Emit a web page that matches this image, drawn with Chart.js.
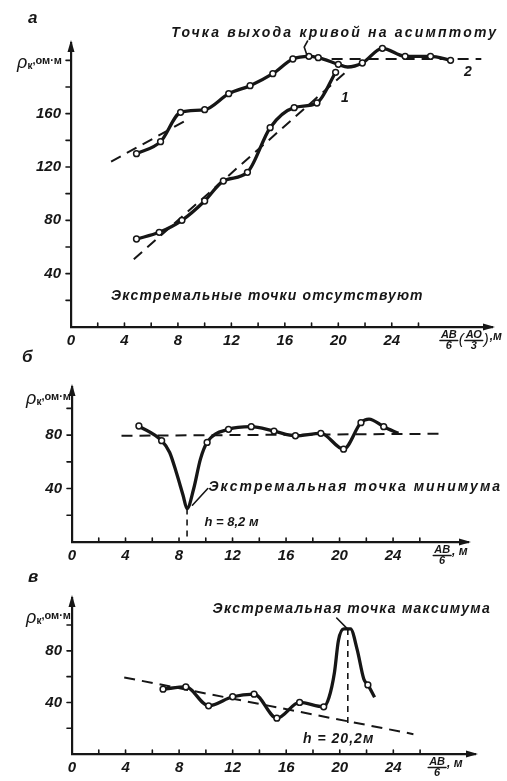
<!DOCTYPE html>
<html>
<head>
<meta charset="utf-8">
<script src="https://cdn.jsdelivr.net/npm/chart.js@4.4.1/dist/chart.umd.min.js"></script>
<style>
    html, body { margin: 0; padding: 0; background: #fff; }
    body { width: 507px; height: 781px; position: relative; overflow: hidden; }
    .panel { position: absolute; left: 0; width: 507px; }
</style>
</head>
<body>
<div class="panel" style="top:0;height:360px"><canvas id="chart-a"></canvas></div>
<div class="panel" style="top:340px;height:225px"><canvas id="chart-b"></canvas></div>
<div class="panel" style="top:560px;height:221px"><canvas id="chart-v"></canvas></div>
<script>
"use strict";

// shared axis ticks
const xTicks = [0, 2, 4, 6, 8, 10, 12, 14, 16, 18, 20, 22, 24, 26];
const xLabels = [0, 4, 8, 12, 16, 20, 24];

// panel а
const aYTicks = [20, 40, 60, 80, 100, 120, 140, 160, 180, 200];
const aYLabels = [40, 80, 120, 160];
const a1PointsX = [4.9, 6.6, 8.3, 10.0, 11.4, 13.2, 14.9, 16.7, 18.4, 19.8];
const a1PointsY = [66, 71, 80, 94.5, 109.5, 116, 149.5, 164.5, 168, 191];
const a2PointsX = [4.9, 6.7, 8.2, 10.0, 11.8, 13.4, 15.1, 16.6, 17.8, 18.5, 20.0, 21.8, 23.3, 25.0, 26.9, 28.4];
const a2PointsY = [130, 139, 161, 163, 175, 181, 190, 201, 203, 202, 197, 198, 209, 203, 203, 200];
const a2ShapeX = [20.7];
const a2ShapeY = [195];
const a1TrendX = [4.7, 20.6];
const a1TrendY = [50.8, 191.5];
const a2TrendX = [3.0, 8.8];
const a2TrendY = [124, 156];
const aAsymptoteX = [19.5, 30.7];
const aAsymptoteY = [201, 201];

// panel б
const bYTicks = [20, 40, 60, 80, 100];
const bYLabels = [40, 80];
const bPointsX = [5.0, 6.7, 10.1, 11.7, 13.4, 15.1, 16.7, 18.6, 20.3, 21.6, 23.3];
const bPointsY = [86.8, 75.8, 74.5, 84.3, 86.3, 83, 79.5, 81.3, 69.5, 89.3, 86.3];
const bShapeX = [7.3, 7.8, 8.3, 8.6, 9.1, 9.6, 22.2, 24.4];
const bShapeY = [67, 52, 35, 25, 40, 62, 92, 81.3];
const bMeanX = [3.7, 27.4];
const bMeanY = [79.5, 81];
const bMinX = [8.6, 8.6];
const bMinY = [25, 0];

// panel в
const vYTicks = [20, 40, 60, 80, 100];
const vYLabels = [40, 80];
const vPointsX = [6.8, 8.5, 10.2, 12.0, 13.6, 15.3, 17.0, 18.8, 22.1];
const vPointsY = [50.3, 52, 37.4, 44.4, 46.4, 27.8, 40, 36.6, 53.6];
const vShapeX = [19.2, 19.6, 19.9, 20.3, 20.8, 21.3, 21.8, 22.6];
const vShapeY = [44, 63, 88, 97, 97, 81, 58, 44];
const vTrendX = [3.9, 25.5];
const vTrendY = [59.4, 15.4];
const vMaxX = [20.6, 20.6];
const vMaxY = [97, 22];

const INK = '#161616';
const FONT = '"Liberation Sans", "DejaVu Sans", Arial, sans-serif';
const NOTE_FONT = 'italic bold 14px ' + FONT;

function pts(xs, ys) {
    return xs.map((x, i) => ({x: x, y: ys[i]}));
}

function merged(ax, ay, bx, by) {
    return pts(ax.concat(bx), ay.concat(by)).sort((p, q) => p.x - q.x);
}

function markers(data) {
    return {data: data, showLine: false, pointRadius: 2.9, pointBorderWidth: 1.5,
        pointBackgroundColor: '#fff', pointBorderColor: INK, order: 0};
}

function curve(data) {
    return {data: data, borderColor: INK, borderWidth: 3.3, pointRadius: 0,
        cubicInterpolationMode: 'monotone', fill: false, order: 1};
}

function dashed(data, dash, width) {
    return {data: data, borderColor: INK, borderWidth: width || 2, borderDash: dash || [11, 7],
        pointRadius: 0, fill: false, order: 2};
}

// stretch a line of text between two x pixels
function fitText(ctx, text, x0, x1, cy, font) {
    ctx.font = font;
    ctx.textAlign = 'left';
    ctx.textBaseline = 'middle';
    if (x1 == null) {
        ctx.fillText(text, x0, cy);
        return;
    }
    const w = ctx.measureText(text).width;
    const extra = (x1 - x0 - w) / Math.max(1, text.length - 1);
    if ('letterSpacing' in ctx) {
        ctx.letterSpacing = extra + 'px';
        ctx.fillText(text, x0, cy);
        ctx.letterSpacing = '0px';
    } else {
        ctx.save();
        ctx.translate(x0, cy);
        ctx.scale((x1 - x0) / w, 1);
        ctx.fillText(text, 0, 0);
        ctx.restore();
    }
}

function drawYTitle(ctx, right, cy) {
    const parts = [['ρ', 'italic 18px ' + FONT, 1], ['к', 'bold 10px ' + FONT, 4], [',ом·м', 'bold 11px ' + FONT, -1]];
    let w = 0;
    parts.forEach(p => { ctx.font = p[1]; w += ctx.measureText(p[0]).width; });
    let x = right - w;
    ctx.textAlign = 'left';
    ctx.textBaseline = 'middle';
    parts.forEach(p => {
        ctx.font = p[1];
        ctx.fillText(p[0], x, cy + p[2]);
        x += ctx.measureText(p[0]).width;
    });
}

function drawXTitle(ctx, x, yb, pieces) {
    ctx.textBaseline = 'middle';
    ctx.textAlign = 'center';
    pieces.forEach(p => {
        if (Array.isArray(p)) {
            ctx.font = 'italic bold 11px ' + FONT;
            const w = Math.max(ctx.measureText(p[0]).width, ctx.measureText(p[1]).width) + 2;
            ctx.fillText(p[0], x + w / 2, yb + 8);
            ctx.fillText(p[1], x + w / 2, yb + 19);
            ctx.lineWidth = 1.4;
            ctx.beginPath();
            ctx.moveTo(x, yb + 13.5);
            ctx.lineTo(x + w, yb + 13.5);
            ctx.stroke();
            x += w + 1;
        } else {
            const paren = p === '(' || p === ')';
            ctx.font = paren ? 'italic 15px ' + FONT : 'italic bold 12px ' + FONT;
            const w = ctx.measureText(p).width;
            ctx.fillText(p, x + w / 2, yb + (paren ? 13 : 10));
            x += w + 1;
        }
    });
}

const sketch = {
    id: 'sketch',
    afterDraw(chart, args, o) {
        const ctx = chart.ctx, ca = chart.chartArea;
        const sx = chart.scales.x, sy = chart.scales.y;
        const px = v => sx.getPixelForValue(v), py = v => sy.getPixelForValue(v);
        ctx.save();
        ctx.fillStyle = INK;
        ctx.strokeStyle = INK;
        ctx.lineCap = 'round';

        // tick marks: x inward, y outward
        ctx.lineWidth = 1.6;
        ctx.beginPath();
        sx.ticks.forEach(t => {
            if (t.value > 0) {
                ctx.moveTo(px(t.value), ca.bottom);
                ctx.lineTo(px(t.value), ca.bottom - 4);
            }
        });
        sy.ticks.forEach(t => {
            ctx.moveTo(ca.left, py(t.value));
            ctx.lineTo(ca.left - 5, py(t.value));
        });
        ctx.stroke();

        // arrow heads
        ctx.beginPath();
        ctx.moveTo(ca.left, ca.top - 3);
        ctx.lineTo(ca.left - 3.5, ca.top + 9);
        ctx.lineTo(ca.left + 3.5, ca.top + 9);
        ctx.closePath();
        ctx.moveTo(ca.right + 3, ca.bottom);
        ctx.lineTo(ca.right - 9, ca.bottom - 3.5);
        ctx.lineTo(ca.right - 9, ca.bottom + 3.5);
        ctx.closePath();
        ctx.fill();

        // panel letter
        ctx.font = 'italic bold 17px ' + FONT;
        ctx.textAlign = 'left';
        ctx.textBaseline = 'middle';
        ctx.fillText(o.letter, o.letterAt[0], o.letterAt[1]);

        drawYTitle(ctx, o.yTitle.right, ca.top + o.yTitle.dy);
        drawXTitle(ctx, px(o.xTitle.x), ca.bottom, o.xTitle.pieces);

        o.notes.forEach(n => fitText(ctx, n.text, px(n.x0), n.x1 == null ? null : px(n.x1), py(n.y), n.font || NOTE_FONT));

        ctx.lineWidth = 1.6;
        o.leaders.forEach(l => {
            ctx.beginPath();
            l.forEach((p, i) => i ? ctx.lineTo(px(p[0]), py(p[1])) : ctx.moveTo(px(p[0]), py(p[1])));
            ctx.stroke();
        });
        ctx.restore();
    }
};

function makeChart(id, cfg) {
    const tickFont = {family: FONT, size: 15, style: 'italic', weight: 'bold'};
    return new Chart(document.getElementById(id), {
        type: 'line',
        data: {datasets: cfg.datasets},
        options: {
            responsive: true,
            maintainAspectRatio: false,
            animation: false,
            layout: {padding: {top: cfg.top, right: cfg.right, left: 0, bottom: 0}},
            plugins: {
                legend: {display: false},
                tooltip: {enabled: false},
                sketch: cfg.sketch
            },
            scales: {
                x: {
                    type: 'linear',
                    min: 0,
                    max: cfg.xMax,
                    afterBuildTicks: s => { s.ticks = xTicks.map(v => ({value: v})); },
                    afterFit: s => { s.height = cfg.xHeight; },
                    grid: {display: true, drawOnChartArea: false, drawTicks: false},
                    border: {display: true, color: INK, width: 2.2},
                    ticks: {
                        autoSkip: false,
                        maxRotation: 0,
                        padding: 5,
                        color: INK,
                        font: tickFont,
                        callback: v => xLabels.includes(v) ? String(v) : ''
                    }
                },
                y: {
                    type: 'linear',
                    min: 0,
                    max: cfg.yMax,
                    afterBuildTicks: s => { s.ticks = cfg.yTicks.map(v => ({value: v})); },
                    afterFit: s => { s.width = cfg.left; },
                    grid: {display: true, drawOnChartArea: false, drawTicks: false},
                    border: {display: true, color: INK, width: 2.2},
                    ticks: {
                        padding: 10,
                        color: INK,
                        font: tickFont,
                        callback: v => cfg.yLabels.includes(v) ? String(v) : ''
                    }
                }
            }
        },
        plugins: [sketch]
    });
}

makeChart('chart-a', {
    top: 43, right: 15, left: 71, xHeight: 33, xMax: 31.5, yMax: 213,
    yTicks: aYTicks, yLabels: aYLabels,
    datasets: [
        markers(pts(a1PointsX, a1PointsY)),
        markers(pts(a2PointsX, a2PointsY)),
        curve(pts(a1PointsX, a1PointsY)),
        curve(merged(a2PointsX, a2PointsY, a2ShapeX, a2ShapeY)),
        dashed(pts(a1TrendX, a1TrendY)),
        dashed(pts(a2TrendX, a2TrendY)),
        dashed(pts(aAsymptoteX, aAsymptoteY))
    ],
    sketch: {
        letter: 'а', letterAt: [28, 18],
        yTitle: {right: 62, dy: 19},
        xTitle: {x: 27.6, pieces: [['АВ', '6'], '(', ['АО', '3'], ')', ',м']},
        notes: [
            {text: 'Точка выхода кривой на асимптоту', x0: 7.5, x1: 31.8, y: 220.5},
            {text: 'Экстремальные точки отсутствуют', x0: 3.0, x1: 26.3, y: 23},
            {text: '1', x0: 20.2, y: 172},
            {text: '2', x0: 29.4, y: 191}
        ],
        leaders: [[[17.65, 204], [17.45, 210], [17.7, 214.5]]]
    }
});

makeChart('chart-b', {
    top: 47, right: 39, left: 72, xHeight: 23, xMax: 29.6, yMax: 116,
    yTicks: bYTicks, yLabels: bYLabels,
    datasets: [
        markers(pts(bPointsX, bPointsY)),
        curve(merged(bPointsX, bPointsY, bShapeX, bShapeY)),
        dashed(pts(bMeanX, bMeanY)),
        dashed(pts(bMinX, bMinY), [6, 5], 1.6)
    ],
    sketch: {
        letter: 'б', letterAt: [22, 17],
        yTitle: {right: 71, dy: 11},
        xTitle: {x: 27.0, pieces: [['АВ', '6'], ', м']},
        notes: [
            {text: 'Экстремальная точка минимума', x0: 10.2, x1: 32.0, y: 41.3},
            {text: 'h = 8,2 м', x0: 9.9, y: 14.3, font: 'italic bold 13px ' + FONT}
        ],
        leaders: [[[9.0, 27.5], [10.15, 40]]]
    }
});

makeChart('chart-v', {
    top: 38, right: 32, left: 72, xHeight: 27, xMax: 30.1, yMax: 121,
    yTicks: vYTicks, yLabels: vYLabels,
    datasets: [
        markers(pts(vPointsX, vPointsY)),
        curve(merged(vPointsX, vPointsY, vShapeX, vShapeY)),
        dashed(pts(vTrendX, vTrendY)),
        dashed(pts(vMaxX, vMaxY), [6, 5], 1.6)
    ],
    sketch: {
        letter: 'в', letterAt: [28, 17],
        yTitle: {right: 71, dy: 19},
        xTitle: {x: 26.6, pieces: [['АВ', '6'], ', м']},
        notes: [
            {text: 'Экстремальная точка максимума', x0: 10.5, x1: 31.2, y: 112.2},
            {text: 'h = 20,2м', x0: 17.25, x1: 22.5, y: 11.6}
        ],
        leaders: [[[19.77, 105.5], [20.63, 96.5]]]
    }
});
</script>
</body>
</html>
